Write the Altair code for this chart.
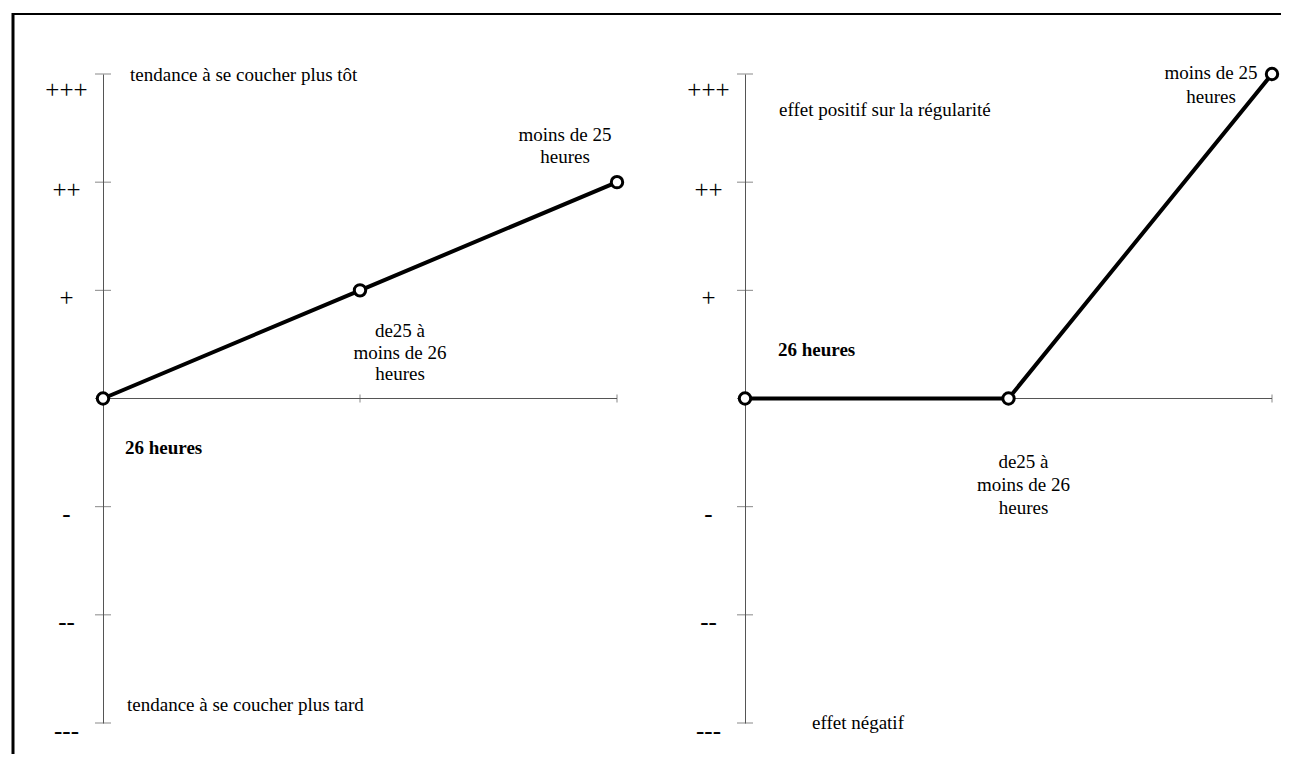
import altair as alt
import pandas as pd

# ---- data ----
categories = ["26 heures", "de25 à\nmoins de 26\nheures", "moins de 25\nheures"]
positions = [0, 1, 2]
left_values = [0, 1, 2]      # tendance à se coucher plus tôt / plus tard
right_values = [0, 0, 3]     # effet sur la régularité
tick_values = [3, 2, 1, 0, -1, -2, -3]
tick_labels = ["+++", "++", "+", "", "-", "--", "---"]

left_top_title = "tendance à se coucher plus tôt"
left_bottom_title = "tendance à se coucher plus tard"
right_top_title = "effet positif sur la régularité"
right_bottom_title = "effet négatif"

FONT = "Liberation Serif"
FS = 19

label_map = "{" + ",".join(f"'{v}':'{l}'" for v, l in zip(tick_values, tick_labels)) + "}"


def panel(values, width, height, top_title, top_dx, top_dy, bottom_title, bottom_dx, bottom_dy,
          ann, border=False):
    df = pd.DataFrame({"pos": positions, "val": values, "cat": categories})
    tdf = pd.DataFrame({"v": tick_values, "lab": tick_labels})
    xs = alt.Scale(domain=[min(positions), max(positions)], nice=False, zero=False)
    ys = alt.Scale(domain=[min(tick_values), max(tick_values)], nice=False, zero=False)
    yaxis = alt.Axis(values=tick_values, labelExpr=label_map + "[datum.value]", ticks=False,
                     tickSize=0, grid=False, domainColor="#555", domainWidth=1,
                     labelAlign="center", labelBaseline="middle", labelPadding=37,
                     labelFont=FONT, labelFontSize=25, labelColor="black",
                     labelOffset={"condition": {"test": "datum.value == 3", "value": 15},
                                  "value": 7},
                     title=None, labelOverlap=False)

    base = alt.Chart(df)
    ytick = alt.Chart(tdf).mark_tick(orient="horizontal", size=16, thickness=1, color="#555").encode(
        x=alt.value(0),
        y=alt.Y("v:Q", scale=ys, axis=yaxis),
    )
    xrule = base.mark_rule(color="#555", strokeWidth=1).encode(
        x=alt.value(0), x2=alt.value(width), y=alt.datum(0, scale=ys)
    )
    xtick = base.mark_tick(orient="vertical", size=8, thickness=1, color="#555").encode(
        x=alt.X("pos:Q", scale=xs, axis=None), y=alt.datum(0, scale=ys)
    )
    line = base.mark_line(color="black", strokeWidth=4).encode(
        x=alt.X("pos:Q", scale=xs, axis=None),
        y=alt.Y("val:Q", scale=ys),
    )
    pts = base.mark_point(filled=True, fill="white", stroke="black", strokeWidth=3,
                          size=130, opacity=1, shape="circle").encode(
        x=alt.X("pos:Q", scale=xs, axis=None),
        y=alt.Y("val:Q", scale=ys),
    )
    layers = [xrule, xtick, ytick, line, pts]

    layers.append(base.transform_filter(alt.datum.pos == 0).mark_text(
        text=top_title, font=FONT, fontSize=FS, color="black", align="left", baseline="middle",
        dx=top_dx, dy=top_dy).encode(x=alt.value(0), y=alt.value(0)))
    layers.append(base.transform_filter(alt.datum.pos == 0).mark_text(
        text=bottom_title, font=FONT, fontSize=FS, color="black", align="left", baseline="middle",
        dx=bottom_dx, dy=bottom_dy).encode(x=alt.value(0), y=alt.value(height)))

    for pos, dx, dy, align, weight, lh in ann:
        layers.append(base.transform_filter(alt.datum.pos == pos).mark_text(
            font=FONT, fontSize=FS, color="black", align=align, baseline="middle",
            fontWeight=weight, lineBreak="\n", lineHeight=lh, dx=dx, dy=dy).encode(
            x=alt.X("pos:Q", scale=xs, axis=None),
            y=alt.Y("val:Q", scale=ys),
            text="cat:N",
        ))

    if border:
        one = base.transform_filter(alt.datum.pos == 0)
        layers.append(one.mark_rule(color="black", strokeWidth=3).encode(
            x=alt.value(-90), y=alt.value(-61), y2=alt.value(680)))
        layers.append(one.mark_rule(color="black", strokeWidth=2).encode(
            x=alt.value(-91), x2=alt.value(1178), y=alt.value(-60)))

    return alt.layer(*layers).properties(width=width, height=height)


left = panel(left_values, 514, 649,
             left_top_title, 27, 1, left_bottom_title, 24, -18,
             [(2, -52, -47, "center", "normal", 22),
              (1, 40, 41, "center", "normal", 21.5),
              (0, 22, 49, "left", "bold", 22)],
             border=True)
right = panel(right_values, 527, 649,
              right_top_title, 34, 36, right_bottom_title, 67, 0,
              [(2, -61, -1, "center", "normal", 24),
               (1, 15, 63, "center", "normal", 23),
               (0, 33, -49, "left", "bold", 22)])

chart = alt.hconcat(left, right, spacing=128, bounds="flush").properties(
    padding={"left": 3, "top": 3, "right": 3, "bottom": 3}, background="white"
).configure_view(stroke=None)

chart.save("out.html", embed_options={"renderer": "svg", "actions": False})
